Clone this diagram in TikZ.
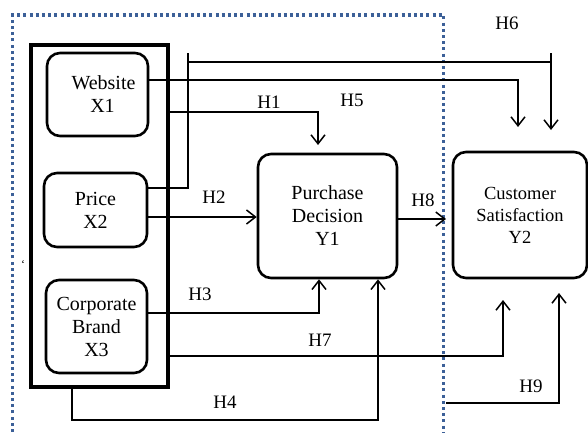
\documentclass[tikz,border=0pt]{standalone}
\usepackage{fontspec}
\setmainfont{Liberation Serif}
\usetikzlibrary{arrows.meta}
\definecolor{frameblue}{RGB}{60,96,152}
\begin{document}
\begin{tikzpicture}[x=1pt,y=-1pt,
  varbox/.style={draw,line width=2.6pt,rounded corners=13pt,align=center,
    font=\fontsize{20}{23}\selectfont,inner sep=0pt},
  link/.style={line width=1.5pt},
  arr/.style={link,-{Straight Barb[length=9pt,width=14pt,line width=1.5pt]}},
  hyp/.style={font=\fontsize{19}{22}\selectfont,inner sep=0pt},
  framedots/.style={frameblue,line width=3.2pt,dash pattern=on 3pt off 3.2pt}]
\useasboundingbox (0,0) rectangle (588,432);

% dotted frame around the independent block
\draw[framedots] (12.5,432) -- (12.5,15) -- (443.5,15) -- (443.5,432);

% outer group of independent variables
\node[draw,line width=4pt,minimum width=137pt,minimum height=342pt,inner sep=0pt]
  (grp) at (99.5,216) {};

% variables
\node[varbox,minimum width=101pt,minimum height=83pt] (web) at (97.5,94.5) {\hspace*{12pt}Website\\\hspace*{10pt}X1};
\node[varbox,minimum width=103pt,minimum height=74pt] (price) at (95.5,210) {Price\\X2};
\node[varbox,minimum width=101pt,minimum height=93pt] (brand) at (96.5,326.5) {Corporate\\Brand\\X3};
\node[varbox,minimum width=139pt,minimum height=124pt] (pd) at (327.5,216) {Purchase\\Decision\\Y1};
\node[varbox,minimum width=134pt,minimum height=126pt,font=\fontsize{18.5}{22}\selectfont]
  (cs) at (520,215) {Customer\\Satisfaction\\Y2};

% free ends of connectors
\coordinate (h5end) at (518,127);
\coordinate (h6end) at (551,130);
\coordinate (h1end) at (318,145);
\coordinate (h7end) at (503,300);
\coordinate (h9start) at (446,403);
\coordinate (h9end) at (559,293);
\coordinate (h8end) at (446,219);

% H5: website -> satisfaction
\draw[arr] ([yshift=14.5pt]web.east) -- (518,80) -- (h5end);
% H6: price -> satisfaction
\draw[arr] ([yshift=22pt]price.east) -- (188,188) -- (188,62) -- (551,62) -- (h6end);
\draw[link] (188,62) -- (188,53);
\draw[link] (551,62) -- (551,53);
% H1: group -> purchase decision
\draw[arr] ([yshift=104pt]grp.east) -- (318,112) -- (h1end);
% H2: price -> purchase decision
\draw[arr] ([yshift=-7pt]price.east) -- (pd.west |- 0,217);
% H3: brand -> purchase decision
\draw[arr] ([yshift=13.5pt]brand.east) -- (319,313) -- (pd.south -| 319,0);
% H4: group -> purchase decision
\draw[arr] ([xshift=-27.5pt]grp.south) -- (72,420) -- (378,420) -- (pd.south -| 378,0);
% H7: group -> satisfaction
\draw[arr] ([yshift=-140pt]grp.east) -- (503,356) -- (h7end);
% H8: purchase decision -> satisfaction
\draw[arr] ([yshift=-3pt]pd.east) -- (h8end);
% H9: into satisfaction
\draw[arr] (h9start) -- (559,403) -- (h9end);

% hypothesis labels
\node[hyp] (l1) at (269,102) {H1};
\node[hyp] (l5) at (352,100) {H5};
\node[hyp] (l6) at (507,23) {H6};
\node[hyp] (l2) at (214,197) {H2};
\node[hyp] (l8) at (423,200) {H8};
\node[hyp] (l3) at (200,294) {H3};
\node[hyp] (l7) at (320,340) {H7};
\node[hyp] (l4) at (225,402) {H4};
\node[hyp] (l9) at (531,386) {H9};

% stray tick mark
\node[font=\fontsize{12}{12}\selectfont,inner sep=0pt] (tick) at (23,264) {`};
\end{tikzpicture}
\end{document}
